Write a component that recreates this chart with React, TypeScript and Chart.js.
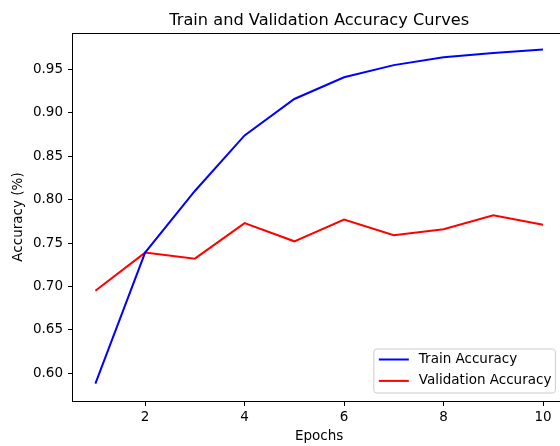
import React, { useEffect, useRef } from 'react';
import { Chart, registerables } from 'chart.js';

Chart.register(...registerables);

const epochs = [1, 2, 3, 4, 5, 6, 7, 8, 9, 10];
const trainAccuracy = [0.588, 0.739, 0.81, 0.874, 0.916, 0.941, 0.955, 0.964, 0.969, 0.973];
const validationAccuracy = [0.695, 0.739, 0.732, 0.773, 0.752, 0.777, 0.759, 0.766, 0.782, 0.771];
const xTickValues = [2, 4, 6, 8, 10];
const yTickValues = [0.6, 0.65, 0.7, 0.75, 0.8, 0.85, 0.9, 0.95];
const seriesLabels = ['Train Accuracy', 'Validation Accuracy'];
const seriesColors = ['#0000ff', '#ff0000'];
const chartTitle = 'Train and Validation Accuracy Curves';
const xTitle = 'Epochs';
const yTitle = 'Accuracy (%)';

const FONT = "'DejaVu Sans', sans-serif";

const framePlugin = {
  id: 'frame',
  afterDraw(chart: any) {
    const { ctx, chartArea } = chart;
    ctx.save();
    ctx.strokeStyle = '#000';
    ctx.lineWidth = 1;
    ctx.strokeRect(
      Math.round(chartArea.left) - 0.5,
      Math.round(chartArea.top) + 0.5,
      Math.round(chartArea.right - chartArea.left),
      Math.round(chartArea.bottom - chartArea.top)
    );
    ctx.restore();
  },
};

const titlePlugin = {
  id: 'mplTitle',
  afterDraw(chart: any) {
    const { ctx, chartArea } = chart;
    ctx.save();
    ctx.font = `16.2px ${FONT}`;
    ctx.fillStyle = '#000';
    ctx.textAlign = 'center';
    ctx.textBaseline = 'alphabetic';
    ctx.fillText(chartTitle, (chartArea.left + chartArea.right) / 2, chartArea.top - 8.3);
    ctx.restore();
  },
};

const legendPlugin = {
  id: 'mplLegend',
  afterDraw(chart: any) {
    const { ctx, chartArea } = chart;
    const datasets = chart.data.datasets;
    ctx.save();
    ctx.font = `13.5px ${FONT}`;
    let maxW = 0;
    datasets.forEach((d: any) => {
      maxW = Math.max(maxW, ctx.measureText(d.label).width);
    });
    const padL = 5;
    const handleLen = 30;
    const handlePad = 10;
    const padR = 4;
    const boxW = padL + handleLen + handlePad + maxW + padR;
    const rowH = 21.4;
    const boxH = 44;
    const right = chartArea.right - 10;
    const bottom = chartArea.bottom - 8;
    const left = right - boxW;
    const top = bottom - boxH;
    const r = 3;
    ctx.beginPath();
    ctx.moveTo(left + r, top);
    ctx.lineTo(left + boxW - r, top);
    ctx.arcTo(left + boxW, top, left + boxW, top + r, r);
    ctx.lineTo(left + boxW, top + boxH - r);
    ctx.arcTo(left + boxW, top + boxH, left + boxW - r, top + boxH, r);
    ctx.lineTo(left + r, top + boxH);
    ctx.arcTo(left, top + boxH, left, top + boxH - r, r);
    ctx.lineTo(left, top + r);
    ctx.arcTo(left, top, left + r, top, r);
    ctx.closePath();
    ctx.fillStyle = 'rgba(255,255,255,0.8)';
    ctx.fill();
    ctx.strokeStyle = '#cccccc';
    ctx.lineWidth = 1;
    ctx.stroke();
    datasets.forEach((d: any, i: number) => {
      const y = top + 10.5 + i * rowH;
      ctx.beginPath();
      ctx.strokeStyle = d.borderColor;
      ctx.lineWidth = 2;
      ctx.moveTo(left + padL, y);
      ctx.lineTo(left + padL + handleLen, y);
      ctx.stroke();
      ctx.fillStyle = '#000';
      ctx.textBaseline = 'middle';
      ctx.textAlign = 'left';
      ctx.fillText(d.label, left + padL + handleLen + handlePad, y);
    });
    ctx.restore();
  },
};

export default function App() {
  const canvasRef = useRef<HTMLCanvasElement | null>(null);

  useEffect(() => {
    if (!canvasRef.current) return;
    const seriesValues = [trainAccuracy, validationAccuracy];
    const chart = new Chart(canvasRef.current, {
      type: 'line',
      data: {
        datasets: seriesValues.map((vals, i) => ({
          label: seriesLabels[i],
          data: epochs.map((e, j) => ({ x: e, y: vals[j] })),
          borderColor: seriesColors[i],
          backgroundColor: seriesColors[i],
          borderWidth: 2,
          pointRadius: 0,
          tension: 0,
          fill: false,
        })),
      },
      options: {
        responsive: false,
        animation: false,
        devicePixelRatio: 1,
        layout: { padding: { left: 0, right: 0.6, top: 33, bottom: 0 } },
        plugins: {
          legend: { display: false },
          tooltip: { enabled: false },
          title: { display: false },
        },
        scales: {
          x: {
            type: 'linear',
            min: 0.55,
            max: 10.45,
            afterBuildTicks: (scale: any) => {
              scale.ticks = xTickValues.map((v) => ({ value: v }));
            },
            afterFit: (scale: any) => {
              scale.height = 45;
            },
            ticks: {
              color: '#000',
              font: { family: FONT, size: 13.5, lineHeight: 1.2 },
              padding: 3.5,
              maxRotation: 0,
              callback: (v: any) => String(v),
            },
            grid: {
              display: true,
              drawOnChartArea: false,
              drawTicks: true,
              tickLength: 5,
              color: '#000',
              lineWidth: 1,
            },
            border: { display: false },
            title: {
              display: true,
              text: xTitle,
              color: '#000',
              font: { family: FONT, size: 13.5, weight: 'normal', lineHeight: 1.2 },
              padding: { top: 0, bottom: 1.2 },
            },
          },
          y: {
            type: 'linear',
            min: 0.568,
            max: 0.992,
            afterBuildTicks: (scale: any) => {
              scale.ticks = yTickValues.map((v) => ({ value: v }));
            },
            afterFit: (scale: any) => {
              scale.width = 73;
            },
            ticks: {
              color: '#000',
              font: { family: FONT, size: 13.5, lineHeight: 1.2 },
              padding: 5,
              callback: (v: any) => Number(v).toFixed(2),
            },
            grid: {
              display: true,
              drawOnChartArea: false,
              drawTicks: true,
              tickLength: 5,
              color: '#000',
              lineWidth: 1,
            },
            border: { display: false },
            title: {
              display: true,
              text: yTitle,
              color: '#000',
              font: { family: FONT, size: 13.5, weight: 'normal', lineHeight: 1.2 },
              padding: { top: 10.6, bottom: 0 },
            },
          },
        },
      },
      plugins: [framePlugin, titlePlugin, legendPlugin],
    });
    return () => chart.destroy();
  }, []);

  return (
    <div
      style={{
        position: 'fixed',
        left: 0,
        top: 0,
        width: 560,
        height: 446,
        overflow: 'hidden',
        background: '#fff',
      }}
    >
      <canvas ref={canvasRef} width={566} height={446} style={{ display: 'block', width: 566, height: 446 }} />
    </div>
  );
}
